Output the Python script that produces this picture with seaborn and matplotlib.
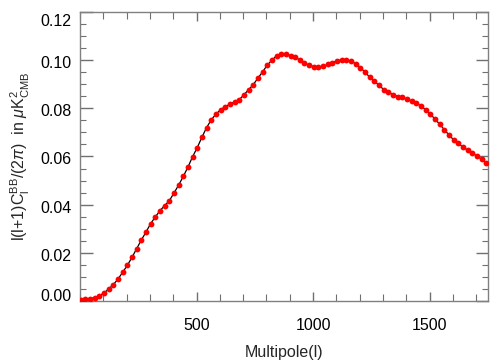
import numpy as np
import pandas as pd
import matplotlib
matplotlib.use("Agg")
import matplotlib.pyplot as plt
import matplotlib.transforms as mtransforms
import seaborn as sns
from matplotlib.ticker import MultipleLocator, FormatStrFormatter

# Multipole grid (bins every 20 in l)
multipole = np.arange(3, 1760, 20)

# l(l+1)C_l^BB/(2pi) values
cl_bb = [
    0.0005, 0.0007, 0.0010, 0.0014, 0.0022, 0.0033, 0.0050, 0.0068, 0.0091, 0.0119,
    0.0148, 0.0181, 0.0217, 0.0253, 0.0286, 0.0321, 0.0349, 0.0375, 0.0396, 0.0416,
    0.0448, 0.0481, 0.0517, 0.0556, 0.0599, 0.0637, 0.0680, 0.0720, 0.0752, 0.0776,
    0.0794, 0.0807, 0.0817, 0.0827, 0.0836, 0.0856, 0.0877, 0.0898, 0.0925, 0.0951,
    0.0979, 0.1000, 0.1018, 0.1026, 0.1026, 0.1019, 0.1012, 0.1001, 0.0988, 0.0979,
    0.0973, 0.0972, 0.0974, 0.0982, 0.0990, 0.0998, 0.1001, 0.1001, 0.0996, 0.0985,
    0.0969, 0.0950, 0.0929, 0.0913, 0.0895, 0.0878, 0.0866, 0.0857, 0.0849, 0.0845,
    0.0837, 0.0830, 0.0822, 0.0809, 0.0794, 0.0776, 0.0755, 0.0734, 0.0711, 0.0689,
    0.0669, 0.0654, 0.0639, 0.0627, 0.0614, 0.0602, 0.0589, 0.0575,
]

x_ticks = [500, 1000, 1500]
y_ticks = [0.00, 0.02, 0.04, 0.06, 0.08, 0.10, 0.12]

df = pd.DataFrame({"l": multipole, "cl": cl_bb})

sns.set_theme(style="white")
plt.rcParams["font.family"] = ["Liberation Sans", "DejaVu Sans"]
plt.rcParams["mathtext.fontset"] = "custom"
plt.rcParams["mathtext.rm"] = "Liberation Sans"
plt.rcParams["mathtext.it"] = "Liberation Sans:italic"
plt.rcParams["mathtext.bf"] = "Liberation Sans:bold"

fig = plt.figure(figsize=(5.04, 3.60), dpi=100)
ax = fig.add_axes([0.1587, 0.1639, 0.8095, 0.8028])

sns.lineplot(data=df, x="l", y="cl", ax=ax, color="black", linewidth=0.9,
             marker="o", markersize=4.2, markerfacecolor="red",
             markeredgecolor="red", markeredgewidth=0, zorder=3)

ax.set_xlim(0, 1750)
ax.set_ylim(0, 0.12)
ax.set_xticks(x_ticks)
ax.set_yticks(y_ticks)
ax.xaxis.set_minor_locator(MultipleLocator(100))
ax.yaxis.set_minor_locator(MultipleLocator(0.005))
ax.yaxis.set_major_formatter(FormatStrFormatter("%.2f"))

ax.tick_params(which="both", direction="in", top=True, right=True,
               bottom=True, left=True, color="#707070", labelsize=11.5,
               labelcolor="black")
ax.tick_params(axis="x", which="major", length=6.5, width=1, pad=12)
ax.tick_params(axis="x", which="minor", length=5, width=0.8)
ax.tick_params(axis="y", which="major", length=9, width=1, pad=6)
ax.tick_params(axis="y", which="minor", length=4.5, width=0.8)

for s in ax.spines.values():
    s.set_color("#808080")
    s.set_linewidth(1.0)

ax.set_xlabel("Multipole(l)", fontsize=11.5, labelpad=9)
ax.set_ylabel(r"l(l+1)C$_\mathrm{l}^\mathrm{BB}$/(2$\pi$)  in $\mu$K$^2_\mathrm{CMB}$",
              fontsize=11.5, labelpad=6)
ax.grid(False)

fig.canvas.draw()
# IDL-style placement: end labels pulled inside the axis range
labels = ax.get_yticklabels()
for i, lab in enumerate(labels):
    if i == 0:
        dy = 6 / 72.0 * 72 / 100.0
    elif i == len(labels) - 1:
        dy = -8.5 / 100.0
    else:
        dy = -2 / 100.0
    if i == 0:
        dy = 6 / 100.0
    lab.set_transform(lab.get_transform() +
                      mtransforms.ScaledTranslation(0, dy, fig.dpi_scale_trans))

fig.savefig("out.png", dpi=100)
